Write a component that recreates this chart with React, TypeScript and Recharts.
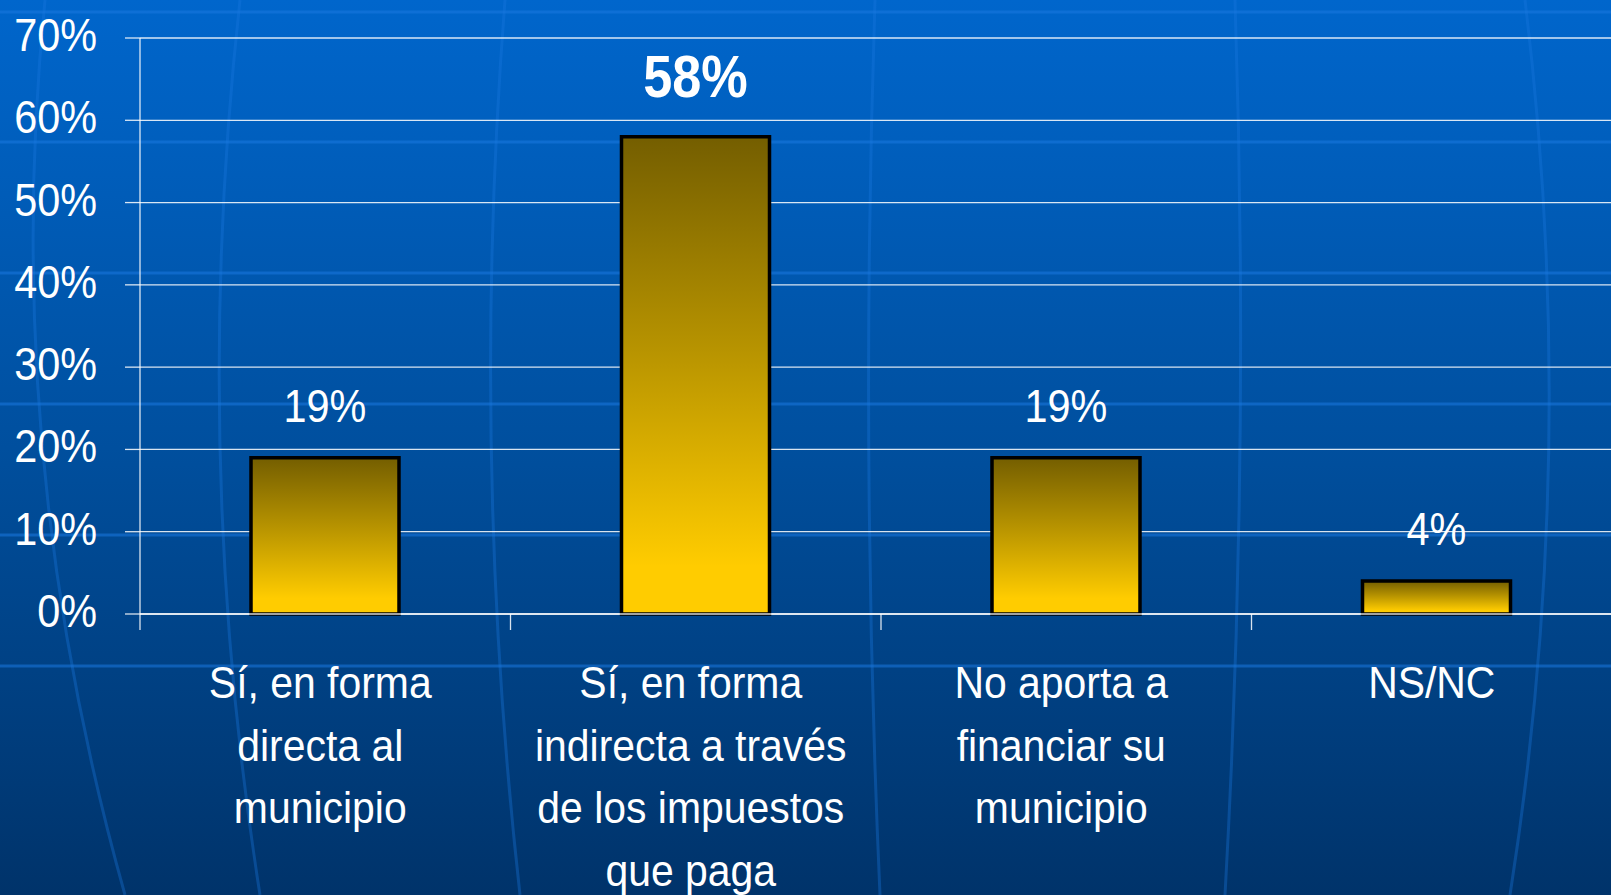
import { BarChart, Bar, XAxis, YAxis, CartesianGrid, LabelList } from 'recharts';

const categories = [
  'Sí, en forma directa al municipio',
  'Sí, en forma indirecta a través de los impuestos que paga',
  'No aporta a financiar su municipio',
  'NS/NC',
];
const categoryLines = [
  ['Sí, en forma', 'directa al', 'municipio'],
  ['Sí, en forma', 'indirecta a través', 'de los impuestos', 'que paga'],
  ['No aporta a', 'financiar su', 'municipio'],
  ['NS/NC'],
];
const values = [19, 58, 19, 4];
const yTicks = [0, 10, 20, 30, 40, 50, 60, 70];

const CHART_W = 1622;
const CHART_H = 895;
const AXIS_W = 140;
const BAND = (CHART_W - AXIS_W) / categories.length;
const FONT = '"Liberation Sans", Arial, sans-serif';

const data = categories.map((name, i) => ({ name, value: values[i], lines: categoryLines[i] }));
const maxValue = Math.max(...values);

function YTick({ x, y, payload }: any) {
  return (
    <g transform={`translate(${x},${y + 13}) scale(0.9,1)`}>
      <text x={0} y={0} textAnchor="end" fill="#ffffff" fontSize={46} fontFamily={FONT}>
        {payload.value}%
      </text>
    </g>
  );
}

function XTick({ x, y, index }: any) {
  const lines = categoryLines[index] ?? [];
  const edge = x - BAND / 2;
  return (
    <g>
      <line x1={edge} y1={y} x2={edge} y2={y + 16} stroke="#ffffff" strokeOpacity={0.85} strokeWidth={1.3} />
      {lines.map((ln, i) => (
        <g key={i} transform={`translate(${x - 5},${y + 84 + i * 62.5}) scale(0.93,1)`}>
          <text x={0} y={0} textAnchor="middle" fill="#ffffff" fontSize={44} fontFamily={FONT}>
            {ln}
          </text>
        </g>
      ))}
    </g>
  );
}

function ValueLabel({ x, y, width, value }: any) {
  const bold = value === maxValue;
  return (
    <g transform={`translate(${x + width / 2},${y - (bold ? 40 : 36)}) scale(${bold ? 0.87 : 0.9},1)`}>
      <text
        x={0}
        y={0}
        textAnchor="middle"
        fill="#ffffff"
        fontSize={bold ? 60 : 46}
        fontWeight={bold ? 700 : 400}
        fontFamily={FONT}
      >
        {value}%
      </text>
    </g>
  );
}

// faint globe decoration behind the chart
const bandLines = [12, 142, 273, 404, 535, 666];
const meridians = [
  'M 45 0 Q 0 450 125 895',
  'M 240 0 Q 190 450 260 895',
  'M 505 0 Q 470 450 520 895',
  'M 875 0 Q 860 450 880 895',
  'M 1235 0 Q 1250 450 1225 895',
  'M 1525 0 Q 1580 450 1510 895',
];

function Background() {
  return (
    <svg width={1611} height={895} style={{ position: 'absolute', left: 0, top: 0 }}>
      <defs>
        <linearGradient id="bg" x1="0" y1="0" x2="0" y2="1">
          <stop offset="0%" stopColor="#0066cc" />
          <stop offset="50%" stopColor="#004f9e" />
          <stop offset="100%" stopColor="#00336a" />
        </linearGradient>
      </defs>
      <rect x={0} y={0} width={1611} height={895} fill="url(#bg)" />
      {bandLines.map((y) => (
        <line key={y} x1={0} x2={1611} y1={y} y2={y} stroke="#1a78e0" strokeOpacity={0.55} strokeWidth={3} />
      ))}
      {meridians.map((d, i) => (
        <path key={i} d={d} fill="none" stroke="#1a78e0" strokeOpacity={0.35} strokeWidth={3} />
      ))}
    </svg>
  );
}

export default function App() {
  return (
    <div style={{ position: 'absolute', left: 0, top: 0, width: 1611, height: 895, overflow: 'hidden' }}>
      <Background />
      <div style={{ position: 'absolute', left: 0, top: 0 }}>
        <BarChart
          width={CHART_W}
          height={CHART_H}
          data={data}
          margin={{ top: 38, right: 0, bottom: 0, left: 0 }}
        >
          <defs>
            <linearGradient id="barFill" x1="0" y1="0" x2="0" y2="1">
              <stop offset="0%" stopColor="#745e00" />
              <stop offset="45%" stopColor="#b89400" />
              <stop offset="90%" stopColor="#ffcc00" />
              <stop offset="100%" stopColor="#ffcc00" />
            </linearGradient>
          </defs>
          <CartesianGrid
            vertical={false}
            stroke="#ffffff"
            strokeOpacity={0.85}
            strokeWidth={1.3}
          />
          <XAxis
            dataKey="name"
            height={CHART_H - 614}
            interval={0}
            tickLine={false}
            tickSize={0}
            tickMargin={0}
            axisLine={{ stroke: '#ffffff', strokeOpacity: 0.85, strokeWidth: 1.3 }}
            tick={<XTick />}
          />
          <YAxis
            width={AXIS_W}
            domain={[0, 70]}
            ticks={yTicks}
            interval={0}
            tickSize={15}
            tickMargin={28}
            tickLine={{ stroke: '#ffffff', strokeOpacity: 0.85, strokeWidth: 1.3 }}
            axisLine={{ stroke: '#ffffff', strokeOpacity: 0.85, strokeWidth: 1.3 }}
            tick={<YTick />}
          />
          <Bar
            dataKey="value"
            barSize={148}
            fill="url(#barFill)"
            stroke="#000000"
            strokeWidth={3.5}
            isAnimationActive={false}
          >
            <LabelList dataKey="value" content={<ValueLabel />} />
          </Bar>
        </BarChart>
      </div>
    </div>
  );
}
